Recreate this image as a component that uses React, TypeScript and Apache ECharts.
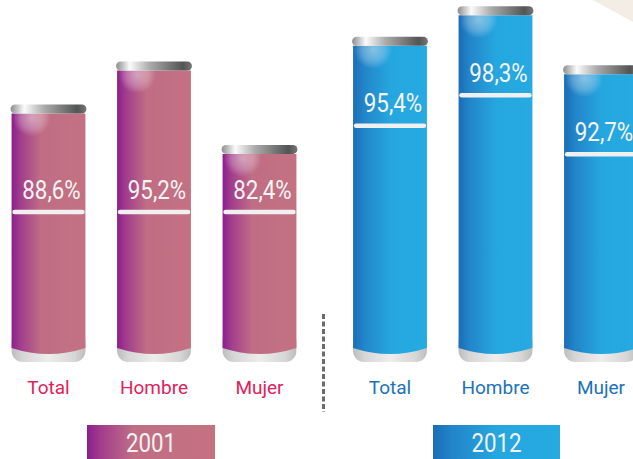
import React, { useEffect, useRef } from "react";
import * as echarts from "echarts";

const categories = ["Total", "Hombre", "Mujer"];
const years = ["2001", "2012"];
const values2001 = [88.6, 95.2, 82.4];
const values2012 = [95.4, 98.3, 92.7];

const FONT = 'Roboto, "Noto Sans", sans-serif';

const fmt = (v: number) => v.toFixed(1).replace(".", ",") + "%";

const lin = (stops: [number, string][], x2 = 1, y2 = 0) => ({
  type: "linear",
  x: 0,
  y: 0,
  x2,
  y2,
  colorStops: stops.map(([offset, color]) => ({ offset, color })),
});

const pinkGrad: [number, string][] = [
  [0, "#8a1e8f"],
  [0.12, "#a23d8c"],
  [0.4, "#c06d85"],
  [1, "#c47282"],
];
const blueGrad: [number, string][] = [
  [0, "#1a6db6"],
  [0.15, "#2385c9"],
  [0.5, "#25a6df"],
  [1, "#26aae1"],
];

function makeRenderItem(
  yMin: number,
  grad: [number, string][],
  labelY: (top: number, bottom: number) => number
) {
  return (params: any, api: any) => {
    const idx = api.value(0);
    const val = api.value(1);
    const topPt = api.coord([idx, val]);
    const basePt = api.coord([idx, yMin]);
    const bw = api.size([1, 0])[0] * 0.7;
    const cx = topPt[0];
    const l = cx - bw / 2;
    const r = cx + bw / 2;
    const t = topPt[1];
    const b = basePt[1];
    const ly = labelY(t, b);
    return {
      type: "group",
      children: [
        {
          type: "rect",
          shape: { x: l, y: b - 22, width: bw, height: 22, r: [0, 0, 11, 11] },
          style: {
            fill: lin([
              [0, "#bcbcbc"],
              [0.15, "#d6d6d6"],
              [0.5, "#ededed"],
              [0.85, "#d6d6d6"],
              [1, "#bdbdbd"],
            ]),
          },
        },
        {
          type: "path",
          shape: {
            pathData: `M${l} ${t} L${r} ${t} L${r} ${b - 14} Q${cx} ${b - 2} ${l} ${b - 14} Z`,
          },
          style: { fill: lin(grad) },
        },
        {
          type: "circle",
          shape: { cx: l + 20, cy: t + 4, r: 19 },
          style: {
            fill: {
              type: "radial",
              x: 0.5,
              y: 0.5,
              r: 0.5,
              colorStops: [
                { offset: 0, color: "rgba(255,255,255,0.45)" },
                { offset: 0.6, color: "rgba(255,255,255,0.25)" },
                { offset: 1, color: "rgba(255,255,255,0)" },
              ],
            },
          },
        },
        {
          type: "rect",
          shape: { x: l - 1, y: t - 9, width: bw + 2, height: 9, r: 4.5 },
          style: {
            fill: lin([
              [0, "#8c8c8c"],
              [0.18, "#fbfbfb"],
              [0.45, "#a9a9a9"],
              [0.88, "#535454"],
              [1, "#767676"],
            ]),
          },
        },
        {
          type: "text",
          x: cx + 3,
          y: ly,
          scaleX: 0.86,
          style: {
            text: fmt(val),
            x: 0,
            y: 0,
            align: "center",
            verticalAlign: "middle",
            fill: "#f4f4f4",
            fontSize: 26,
            fontWeight: "normal",
            fontFamily: FONT,
          },
        },
        {
          type: "line",
          shape: { x1: l + 3, y1: ly + 22, x2: r - 3, y2: ly + 22 },
          style: { stroke: "#f0f0f0", lineWidth: 4.5, lineCap: "round" },
        },
      ],
    };
  };
}

const PINK_MIN = 50.5;
const PINK_MAX = 106;
const BLUE_MIN = 65.4;
const BLUE_MAX = 99.75;

export default function App() {
  const ref = useRef<HTMLDivElement>(null);
  useEffect(() => {
    document.body.style.margin = "0";
    const chart = echarts.init(ref.current!, undefined, { renderer: "svg" });
    const xAxisBase = (color: string, gridIndex: number) => ({
      type: "category",
      gridIndex,
      data: categories,
      axisLine: { show: false },
      axisTick: { show: false },
      axisLabel: {
        color,
        fontSize: 19,
        fontWeight: "normal",
        fontFamily: FONT,
        margin: 16,
      },
    });
    const yAxisBase = (gridIndex: number, min: number, max: number) => ({
      type: "value",
      gridIndex,
      min,
      max,
      show: false,
      splitLine: { show: false },
    });
    chart.setOption({
      animation: false,
      backgroundColor: "#ffffff",
      grid: [
        { left: -4.25, top: 0, width: 316.5, height: 362, outerBoundsMode: "none", containLabel: false },
        { left: 337.25, top: 0, width: 316.5, height: 362, outerBoundsMode: "none", containLabel: false },
      ],
      xAxis: [xAxisBase("#e0215b", 0), xAxisBase("#1b72b8", 1)],
      yAxis: [yAxisBase(0, PINK_MIN, PINK_MAX), yAxisBase(1, BLUE_MIN, BLUE_MAX)],
      series: [
        {
          type: "custom",
          name: years[0],
          xAxisIndex: 0,
          yAxisIndex: 0,
          encode: { x: 0, y: 1 },
          data: values2001.map((v, i) => [i, v]),
          renderItem: makeRenderItem(PINK_MIN, pinkGrad, (t, b) => b - 172),
        },
        {
          type: "custom",
          name: years[1],
          xAxisIndex: 1,
          yAxisIndex: 1,
          encode: { x: 0, y: 1 },
          data: values2012.map((v, i) => [i, v]),
          renderItem: makeRenderItem(BLUE_MIN, blueGrad, (t, b) => t + 58),
        },
      ],
      graphic: [
        {
          type: "polygon",
          shape: { points: [[593, 0], [633, 0], [633, 22]] },
          style: { fill: "#f4ede6" },
          z: -1,
        },
        {
          type: "line",
          shape: { x1: 323.5, y1: 314, x2: 323.5, y2: 412 },
          style: { stroke: "#6b6b6b", lineWidth: 3, lineDash: [5, 2.5] },
        },
        {
          type: "rect",
          shape: { x: 87, y: 425, width: 128, height: 40 },
          style: { fill: lin(pinkGrad.map(([o, c]) => [o * 0.9, c]) as any) },
        },
        {
          type: "text",
          x: 151,
          y: 443,
          scaleX: 0.86,
          style: {
            text: years[0],
            fill: "#f2f2f2",
            fontSize: 26,
            fontFamily: FONT,
            align: "center",
            verticalAlign: "middle",
          },
        },
        {
          type: "rect",
          shape: { x: 433, y: 425, width: 127, height: 40 },
          style: { fill: lin(blueGrad) },
        },
        {
          type: "text",
          x: 496.5,
          y: 443,
          scaleX: 0.86,
          style: {
            text: years[1],
            fill: "#f2f2f2",
            fontSize: 26,
            fontFamily: FONT,
            align: "center",
            verticalAlign: "middle",
          },
        },
      ],
    });
    return () => chart.dispose();
  }, []);
  return (
    <div
      ref={ref}
      style={{ position: "fixed", left: 0, top: 0, width: 633, height: 459 }}
    />
  );
}
